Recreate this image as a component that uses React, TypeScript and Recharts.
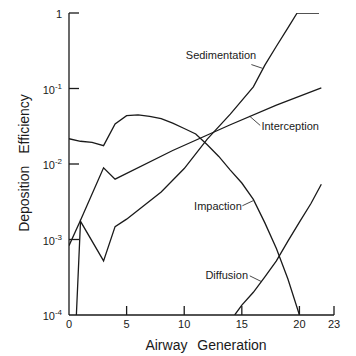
import React from "react"
import {
  LineChart,
  Line,
  XAxis,
  YAxis,
  ReferenceLine,
  ReferenceDot,
} from "recharts"

const INK = "#1a1a1a"
const FONT = "'Liberation Sans', Arial, sans-serif"

// Airway generation (x) and deposition efficiency (y)
const impactionGen = [0, 1, 2, 3, 4, 5, 6, 7, 8, 9, 10, 11, 12, 13, 14, 15, 16, 17, 18, 19, 20]
const impactionEff = [
  0.0216, 0.02, 0.0194, 0.0175, 0.034, 0.0437, 0.0447, 0.0427, 0.04, 0.0347, 0.0295,
  0.025, 0.018, 0.0126, 0.0083, 0.0056, 0.0034, 0.00166, 0.00076, 0.0003, 0.0001,
]

const interceptionGen = [0, 1, 3, 4, 9, 14, 18, 21.9]
const interceptionEff = [0.00083, 0.0018, 0.0089, 0.0063, 0.0151, 0.0331, 0.0603, 0.102]

const sedimentationGen = [0.64, 1, 3, 4, 5, 8, 10, 12, 14, 16, 17, 18, 19, 19.8, 21.7]
const sedimentationEff = [
  0.0001, 0.00174, 0.00052, 0.00148, 0.00186, 0.00427, 0.0087, 0.0214, 0.0457, 0.105,
  0.204, 0.363, 0.637, 1.0, 1.0,
]

const diffusionGen = [14.38, 15, 16, 17, 18, 19, 20, 21, 21.9]
const diffusionEff = [0.0001, 0.000135, 0.0002, 0.00032, 0.00052, 0.00095, 0.0017, 0.003, 0.0054]

const xTicks = [0, 5, 10, 15, 20, 23]
const yTicks = [0.0001, 0.001, 0.01, 0.1, 1]

// curve labels: text anchor point and leader line in data units
const labelNames = ["Sedimentation", "Interception", "Impaction", "Diffusion"]
const labelAt = [
  [13.19, 0.282],
  [16.7, 0.0315],
  [12.93, 0.00274],
  [13.69, 0.00034],
]
const labelAnchor = ["middle", "start", "middle", "middle"]
const leaderFrom = [
  [15.83, 0.2075],
  [15.69, 0.0428],
  [15.05, 0.0028],
  [15.69, 0.00033],
]
const leaderTo = [
  [16.8, 0.185],
  [16.6, 0.0324],
  [15.97, 0.00326],
  [16.7, 0.000277],
]

const toPoints = (gen: number[], eff: number[]) =>
  gen.map((g, i) => ({ gen: g, eff: eff[i] }))

const series = [
  toPoints(impactionGen, impactionEff),
  toPoints(interceptionGen, interceptionEff),
  toPoints(sedimentationGen, sedimentationEff),
  toPoints(diffusionGen, diffusionEff),
]

function YTick(props: any) {
  const { x, y, payload } = props
  const exp = Math.round(Math.log10(payload.value))
  return (
    <g>
      {exp > -4 && (
        <line x1={x} x2={x + 10} y1={y} y2={y} stroke={INK} strokeWidth={1.3} />
      )}
      <text x={x - 7} y={y + 5} textAnchor="end" fontSize={11} fontFamily={FONT} fill={INK}>
        {exp === 0 ? (
          "1"
        ) : (
          <>
            10
            <tspan dy={-5} fontSize={8}>
              {"-" + -exp}
            </tspan>
          </>
        )}
      </text>
    </g>
  )
}

function XTick(props: any) {
  const { x, y, payload } = props
  return (
    <g>
      {payload.value > 0 && (
        <line x1={x} x2={x} y1={y} y2={y - 9} stroke={INK} strokeWidth={1.3} />
      )}
      <text x={x} y={y + 13} textAnchor="middle" fontSize={11} fontFamily={FONT} fill={INK}>
        {payload.value}
      </text>
    </g>
  )
}

export default function App() {
  return (
    <div style={{ position: "absolute", left: 0, top: 0, background: "#fff" }}>
      <LineChart width={356} height={356} margin={{ top: 13, right: 22, left: 0, bottom: 0 }}>
        <XAxis
          type="number"
          dataKey="gen"
          domain={[0, 23]}
          ticks={xTicks}
          interval={0}
          height={41}
          tickSize={0}
          tickMargin={0}
          tickLine={false}
          tick={<XTick />}
          axisLine={{ stroke: INK, strokeWidth: 1.3 }}
          allowDataOverflow
        />
        <YAxis
          type="number"
          dataKey="eff"
          scale="log"
          domain={[0.0001, 1]}
          ticks={yTicks}
          interval={0}
          width={69}
          tickSize={0}
          tickMargin={0}
          tickLine={false}
          tick={<YTick />}
          axisLine={{ stroke: INK, strokeWidth: 1.3 }}
          allowDataOverflow
        />
        {series.map((pts, i) => (
          <Line
            key={i}
            data={pts}
            dataKey="eff"
            type="linear"
            stroke={INK}
            strokeWidth={1.3}
            dot={false}
            activeDot={false}
            isAnimationActive={false}
          />
        ))}
        {labelNames.map((name, i) => (
          <ReferenceLine
            key={"l" + name}
            segment={[
              { x: leaderFrom[i][0], y: leaderFrom[i][1] },
              { x: leaderTo[i][0], y: leaderTo[i][1] },
            ]}
            stroke={INK}
            strokeWidth={0.8}
          />
        ))}
        {labelNames.map((name, i) => (
          <ReferenceDot
            key={"t" + name}
            x={labelAt[i][0]}
            y={labelAt[i][1]}
            r={0}
            shape={(p: any) => (
              <text
                x={p.cx}
                y={p.cy + 4}
                textAnchor={labelAnchor[i] as any}
                fontSize={11}
                fontFamily={FONT}
                fill={INK}
              >
                {name}
              </text>
            )}
          />
        ))}
        <text
          x={29}
          y={163}
          transform="rotate(-90 29 163)"
          textAnchor="middle"
          fontSize={14}
          fontFamily={FONT}
          fill={INK}
          wordSpacing={8}
        >
          Deposition Efficiency
        </text>
        <text
          x={206}
          y={350}
          textAnchor="middle"
          fontSize={14}
          fontFamily={FONT}
          fill={INK}
          wordSpacing={6}
        >
          Airway Generation
        </text>
      </LineChart>
    </div>
  )
}
